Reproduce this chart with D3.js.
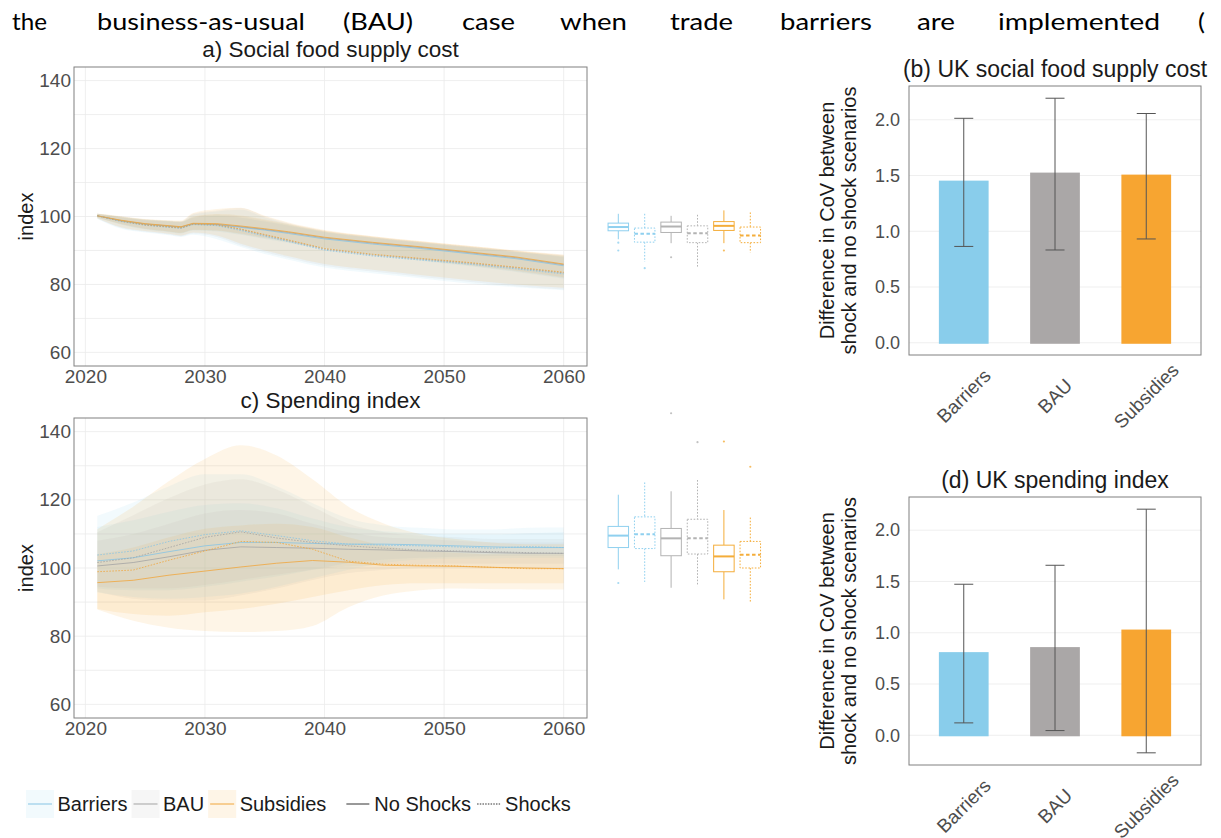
<!DOCTYPE html>
<html>
<head>
<meta charset="utf-8">
<script src="https://cdn.jsdelivr.net/npm/d3@7"></script>
<style>
  html, body { margin: 0; padding: 0; background: #ffffff; }
  svg { display: block; }
</style>
</head>
<body>
<svg id="fig" width="1221" height="838"></svg>
<script>
// ---------------------------------------------------------------
// Data
// ---------------------------------------------------------------
const scenarios = ["Barriers", "BAU", "Subsidies"];

// (a) Social food supply cost, index (2021 = 100)
const costYears = [2021, 2023, 2025, 2027, 2028, 2029, 2031, 2033, 2035, 2037, 2040, 2044, 2048, 2052, 2056, 2060];
const costBarriersNoShock   = [100.2, 98.7, 97.7, 97.1, 96.8, 97.8, 97.6, 96.8, 96.0, 95.0, 93.4, 91.9, 90.6, 89.1, 87.6, 85.5];
const costBAUNoShock        = [100.2, 98.8, 97.8, 97.2, 96.9, 97.9, 97.7, 97.0, 96.2, 95.3, 93.7, 92.2, 90.9, 89.4, 87.9, 85.8];
const costSubsidiesNoShock  = [100.2, 98.9, 97.9, 97.3, 97.0, 98.0, 97.9, 97.2, 96.4, 95.5, 93.9, 92.4, 91.1, 89.6, 88.1, 86.0];
const costBarriersShock     = [100.2, 98.5, 97.4, 96.8, 96.5, 97.6, 97.3, 95.9, 94.2, 92.6, 90.1, 88.4, 87.2, 86.0, 84.6, 83.1];
const costBAUShock          = [100.2, 98.6, 97.5, 96.9, 96.6, 97.7, 97.5, 96.2, 94.5, 92.9, 90.4, 88.7, 87.5, 86.3, 84.9, 83.4];
const costSubsidiesShock    = [100.2, 98.7, 97.6, 97.0, 96.7, 97.8, 97.6, 96.3, 94.7, 93.1, 90.6, 88.9, 87.7, 86.5, 85.1, 83.6];

const costBarriersNoShockLo  = [99.6, 97.6, 96.2, 95.4, 95.0, 95.9, 95.6, 94.6, 93.4, 92.2, 90.4, 88.6, 87.0, 85.4, 83.7, 81.7];
const costBarriersNoShockHi  = [100.7, 99.7, 98.9, 98.5, 98.3, 99.6, 100.2, 99.6, 98.5, 97.3, 95.4, 93.8, 92.4, 91.0, 89.6, 88.0];
const costBAUNoShockLo       = [99.7, 97.7, 96.3, 95.5, 95.1, 96.0, 95.8, 94.8, 93.6, 92.4, 90.6, 88.8, 87.2, 85.6, 83.9, 81.9];
const costBAUNoShockHi       = [100.8, 99.8, 99.0, 98.6, 98.4, 99.8, 100.5, 100.0, 98.8, 97.5, 95.6, 94.0, 92.6, 91.2, 89.8, 88.2];
const costSubsidiesNoShockLo = [99.7, 97.8, 96.4, 95.6, 95.2, 96.1, 95.9, 95.0, 93.8, 92.6, 90.8, 89.0, 87.4, 85.8, 84.1, 82.1];
const costSubsidiesNoShockHi = [100.8, 99.9, 99.1, 98.7, 98.5, 99.9, 100.7, 100.3, 99.1, 97.8, 95.8, 94.2, 92.8, 91.4, 90.0, 88.5];
const costBarriersShockLo    = [99.3, 96.4, 95.3, 94.5, 94.0, 94.6, 93.3, 91.0, 89.0, 87.3, 85.0, 83.3, 81.8, 80.3, 79.2, 78.3];
const costBarriersShockHi    = [100.8, 99.9, 99.1, 98.7, 98.5, 100.5, 101.5, 102.0, 99.7, 97.7, 95.5, 93.7, 92.2, 90.9, 89.5, 88.4];
const costBAUShockLo         = [99.4, 96.6, 95.5, 94.7, 94.2, 95.0, 94.0, 91.5, 89.5, 87.8, 85.5, 83.8, 82.3, 80.8, 79.5, 78.5];
const costBAUShockHi         = [100.8, 100.0, 99.2, 98.8, 98.6, 100.8, 101.8, 102.5, 100.0, 98.0, 95.8, 94.0, 92.5, 91.2, 89.8, 88.7];
const costSubsidiesShockLo   = [99.5, 96.8, 95.7, 94.9, 94.4, 95.3, 94.4, 92.0, 90.0, 88.3, 86.0, 84.3, 82.8, 81.3, 80.0, 79.0];
const costSubsidiesShockHi   = [100.9, 100.1, 99.3, 98.9, 98.8, 101.0, 102.2, 102.6, 100.2, 98.2, 96.0, 94.2, 92.7, 91.4, 90.0, 88.8];

// (c) Spending index (2021 = 100)
const spendYears = [2021, 2024, 2027, 2030, 2033, 2036, 2039, 2042, 2045, 2048, 2051, 2054, 2057, 2060];
const spendBarriersNoShock  = [102.1, 103.0, 104.8, 106.5, 107.5, 107.5, 107.2, 107.0, 107.0, 106.8, 106.5, 106.2, 106.0, 106.0];
const spendBAUNoShock       = [100.6, 101.6, 103.3, 105.2, 106.2, 106.0, 105.8, 105.5, 105.3, 105.0, 104.8, 104.5, 104.3, 104.3];
const spendSubsidiesNoShock = [95.7, 96.4, 97.9, 99.1, 100.3, 101.4, 102.2, 101.7, 100.8, 100.6, 100.5, 100.2, 100.0, 99.8];
const spendBarriersShock    = [103.8, 105.0, 107.8, 109.8, 110.9, 109.5, 108.0, 107.0, 106.7, 106.5, 106.2, 105.8, 106.3, 106.0];
const spendBAUShock         = [101.6, 103.0, 106.0, 109.0, 110.6, 108.8, 107.5, 106.5, 105.8, 105.3, 105.0, 104.8, 104.5, 104.3];
const spendSubsidiesShock   = [98.9, 99.4, 102.3, 105.0, 107.8, 107.5, 105.5, 102.0, 101.1, 100.8, 100.6, 100.2, 99.8, 99.8];

const spendBarriersNoShockLo  = [94.0, 93.5, 93.5, 94.5, 96.0, 97.5, 99.5, 101.5, 102.5, 103.0, 103.3, 103.5, 103.5, 103.5];
const spendBarriersNoShockHi  = [112.0, 114.0, 116.5, 118.5, 119.0, 117.5, 114.5, 112.0, 110.8, 110.2, 109.8, 109.8, 110.2, 110.5];
const spendBAUNoShockLo       = [94.5, 94.0, 94.0, 95.0, 96.5, 98.0, 99.5, 100.5, 101.0, 101.2, 101.3, 101.3, 101.3, 101.3];
const spendBAUNoShockHi       = [108.0, 110.0, 113.0, 116.0, 117.0, 116.0, 113.0, 110.5, 109.0, 108.5, 108.0, 107.5, 107.5, 107.5];
const spendSubsidiesNoShockLo = [88.0, 86.5, 86.0, 87.0, 88.0, 89.5, 91.5, 93.5, 95.0, 95.5, 95.5, 95.5, 95.5, 95.5];
const spendSubsidiesNoShockHi = [104.0, 106.0, 109.0, 111.5, 112.5, 113.0, 112.0, 109.0, 106.5, 105.0, 104.5, 104.0, 104.0, 104.0];
const spendBarriersShockLo    = [92.8, 91.5, 91.0, 91.5, 92.5, 94.5, 97.0, 99.5, 101.5, 102.5, 102.8, 102.8, 103.0, 103.0];
const spendBarriersShockHi    = [115.3, 119.2, 124.0, 127.5, 127.5, 124.0, 119.0, 114.5, 112.5, 111.8, 111.3, 111.3, 111.8, 111.9];
const spendBAUShockLo         = [93.0, 91.0, 90.5, 90.5, 92.0, 94.0, 96.5, 98.5, 99.5, 100.0, 100.0, 100.0, 100.0, 100.0];
const spendBAUShockHi         = [110.5, 115.5, 120.5, 124.5, 126.0, 123.0, 118.0, 113.0, 110.5, 109.5, 109.0, 108.5, 108.5, 108.5];
const spendSubsidiesShockLo   = [87.8, 84.5, 82.5, 81.5, 81.2, 81.5, 83.0, 88.5, 92.0, 93.5, 94.0, 93.8, 93.7, 93.7];
const spendSubsidiesShockHi   = [111.4, 118.0, 125.5, 132.0, 136.0, 133.0, 126.0, 118.0, 113.0, 110.0, 108.5, 107.5, 107.0, 107.0];

// Box plots beside (a) and (c): Barriers, Barriers+shock, BAU, BAU+shock, Subsidies, Subsidies+shock
const boxGroups  = ["Barriers|No Shocks", "Barriers|Shocks", "BAU|No Shocks", "BAU|Shocks", "Subsidies|No Shocks", "Subsidies|Shocks"];
const costBoxLow      = [93.3, 86.7, 92.15, 85.25, 92.15, 89.4];
const costBoxQ1       = [95.8, 92.45, 95.3, 92.3, 95.9, 92.3];
const costBoxMedian   = [96.9, 94.9, 97.05, 95.1, 97.25, 94.4];
const costBoxQ3       = [98.05, 96.6, 98.35, 97.25, 98.5, 96.9];
const costBoxHigh     = [100.8, 100.8, 100.2, 100.5, 101.8, 101.2];
const costBoxOutliers = [[92.3, 90.0], [84.8], [88.0], [], [90.0], []];

const spendBoxLow      = [99.6, 95.9, 94.2, 94.7, 90.8, 89.8];
const spendBoxQ1       = [106.0, 105.7, 103.6, 104.1, 98.9, 100.0];
const spendBoxMedian   = [109.5, 109.9, 108.7, 108.7, 103.4, 103.9];
const spendBoxQ3       = [112.2, 115.0, 111.6, 114.3, 106.7, 107.8];
const spendBoxHigh     = [121.5, 125.1, 122.5, 125.8, 117.0, 114.8];
const spendBoxOutliers = [[95.6], [], [145.4], [136.9], [137.1], [129.7]];

// (b) and (d): difference in CoV between shock and no-shock scenarios
const costCovDiff  = [1.454, 1.526, 1.508];
const costCovLow   = [0.864, 0.832, 0.931];
const costCovHigh  = [2.013, 2.193, 2.056];
const spendCovDiff = [0.811, 0.860, 1.031];
const spendCovLow  = [0.121, 0.046, -0.171];
const spendCovHigh = [1.473, 1.658, 2.205];

const indexTicks = [60, 80, 100, 120, 140];
const yearTicks  = [2020, 2030, 2040, 2050, 2060];
const covTicks   = [0, 0.5, 1, 1.5, 2];

// ---------------------------------------------------------------
// Styling
// ---------------------------------------------------------------
const FONT = "'Liberation Sans', Arial, Helvetica, sans-serif";
const lineColor = { Barriers: "#86c4e4", BAU: "#a3a3a3", Subsidies: "#f0a63c" };
const bandColor = { Barriers: "#87ceeb", BAU: "#a9a9a9", Subsidies: "#f5a623" };
const boxColor  = { Barriers: "#8fd0ef", BAU: "#b3b3b3", Subsidies: "#f4ad3a" };
const barColor  = { Barriers: "#89cdeb", BAU: "#aaa7a7", Subsidies: "#f7a531" };
const BAND_OPACITY = 0.11;
const GRID = "#ebebeb";
const BORDER = "#808080";
const TICK_TEXT = "#4d4d4d";

const svg = d3.select("#fig");
svg.append("rect").attr("width", 1221).attr("height", 838).attr("fill", "#fff");

// ---------------------------------------------------------------
// Running text line above the figure (justified words)
// ---------------------------------------------------------------
const headerWords = ["the", "business-as-usual", "(BAU)", "case", "when", "trade", "barriers", "are", "implemented", "("];
const headerStart = [12, 97, 343, 462, 560, 670, 780, 917, 998, 1198];
const headerWidth = [35, 208, 70, 53, 67, 63, 92, 38, 162, 7];
svg.append("g")
  .selectAll("text")
  .data(headerWords)
  .join("text")
  .attr("x", (d, i) => headerStart[i])
  .attr("y", 30)
  .attr("textLength", (d, i) => headerWidth[i])
  .attr("lengthAdjust", "spacingAndGlyphs")
  .attr("font-family", "Lato, 'Open Sans', sans-serif")
  .attr("font-size", 23)
  .attr("fill", "#000")
  .text(d => d);

// ---------------------------------------------------------------
// Time-series panels (a) and (c)
// ---------------------------------------------------------------
function seriesSet(years, mids, los, his) {
  const order = [
    ["Barriers", false], ["BAU", false], ["Subsidies", false],
    ["Barriers", true], ["BAU", true], ["Subsidies", true]
  ];
  return order.map(([scen, shock], k) => ({
    scenario: scen, shock: shock,
    points: years.map((yr, i) => ({ year: yr, mid: mids[k][i], lo: los[k][i], hi: his[k][i] }))
  }));
}

const costData = seriesSet(costYears,
  [costBarriersNoShock, costBAUNoShock, costSubsidiesNoShock, costBarriersShock, costBAUShock, costSubsidiesShock],
  [costBarriersNoShockLo, costBAUNoShockLo, costSubsidiesNoShockLo, costBarriersShockLo, costBAUShockLo, costSubsidiesShockLo],
  [costBarriersNoShockHi, costBAUNoShockHi, costSubsidiesNoShockHi, costBarriersShockHi, costBAUShockHi, costSubsidiesShockHi]);

const spendData = seriesSet(spendYears,
  [spendBarriersNoShock, spendBAUNoShock, spendSubsidiesNoShock, spendBarriersShock, spendBAUShock, spendSubsidiesShock],
  [spendBarriersNoShockLo, spendBAUNoShockLo, spendSubsidiesNoShockLo, spendBarriersShockLo, spendBAUShockLo, spendSubsidiesShockLo],
  [spendBarriersNoShockHi, spendBAUNoShockHi, spendSubsidiesNoShockHi, spendBarriersShockHi, spendBAUShockHi, spendSubsidiesShockHi]);

function drawSeriesPanel(opt) {
  const { top, bottom, left, right, title, data, box } = opt;
  const g = svg.append("g");
  const x = d3.scaleLinear().domain([2019.05, 2061.95]).range([left, right]);
  const y = d3.scaleLinear().domain([56, 144]).range([bottom, top]);

  // grid
  g.append("g").selectAll("line").data(d3.range(60, 141, 10)).join("line")
    .attr("x1", left).attr("x2", right)
    .attr("y1", d => y(d)).attr("y2", d => y(d))
    .attr("stroke", GRID).attr("stroke-width", 0.8);
  g.append("g").selectAll("line").data(yearTicks).join("line")
    .attr("x1", d => x(d)).attr("x2", d => x(d))
    .attr("y1", top).attr("y2", bottom)
    .attr("stroke", GRID).attr("stroke-width", 0.8);

  // uncertainty bands
  const area = d3.area().x(d => x(d.year)).y0(d => y(d.lo)).y1(d => y(d.hi)).curve(d3.curveMonotoneX);
  g.append("g").selectAll("path").data(data).join("path")
    .attr("d", d => area(d.points))
    .attr("fill", d => bandColor[d.scenario])
    .attr("fill-opacity", BAND_OPACITY)
    .attr("stroke", "none");

  // mean lines
  const line = d3.line().x(d => x(d.year)).y(d => y(d.mid));
  g.append("g").selectAll("path").data(data).join("path")
    .attr("d", d => line(d.points))
    .attr("fill", "none")
    .attr("stroke", d => lineColor[d.scenario])
    .attr("stroke-width", 0.8)
    .attr("stroke-dasharray", d => d.shock ? "1.6,1.4" : null);

  // panel border
  g.append("rect")
    .attr("x", left).attr("y", top)
    .attr("width", right - left).attr("height", bottom - top)
    .attr("fill", "none").attr("stroke", BORDER).attr("stroke-width", 1);

  // axes
  const yAxis = g.append("g").attr("transform", `translate(${left},0)`)
    .call(d3.axisLeft(y).tickValues(indexTicks).tickSize(0).tickPadding(3));
  const xAxis = g.append("g").attr("transform", `translate(0,${bottom})`)
    .call(d3.axisBottom(x).tickValues(yearTicks).tickFormat(d3.format("d")).tickSize(0).tickPadding(4));
  [yAxis, xAxis].forEach(a => {
    a.select(".domain").remove();
    a.selectAll("text").attr("font-family", FONT).attr("font-size", 19).attr("fill", TICK_TEXT);
  });

  // axis title and panel title
  g.append("text")
    .attr("transform", `translate(26,${(top + bottom) / 2}) rotate(-90)`)
    .attr("text-anchor", "middle").attr("dominant-baseline", "central")
    .attr("font-family", FONT).attr("font-size", 20).attr("fill", "#1a1a1a")
    .text("index");
  g.append("text")
    .attr("x", (left + right) / 2).attr("y", top - 10)
    .attr("text-anchor", "middle")
    .attr("font-family", FONT).attr("font-size", 22.5).attr("fill", "#1a1a1a")
    .text(title);

  // box plots of the period distribution, sharing the y scale
  const bx = d3.scalePoint().domain(boxGroups).range([618.3, 750.3]);
  const bw = 20.5;
  const bg = g.append("g");
  boxGroups.forEach((key, i) => {
    const [scen, state] = key.split("|");
    const shock = state === "Shocks";
    const c = boxColor[scen];
    const cx = bx(key);
    const dash = shock ? "1.6,1.6" : null;
    const grp = bg.append("g");
    grp.append("line").attr("x1", cx).attr("x2", cx)
      .attr("y1", y(box.high[i])).attr("y2", y(box.q3[i]))
      .attr("stroke", c).attr("stroke-width", 1).attr("stroke-dasharray", dash);
    grp.append("line").attr("x1", cx).attr("x2", cx)
      .attr("y1", y(box.q1[i])).attr("y2", y(box.low[i]))
      .attr("stroke", c).attr("stroke-width", 1).attr("stroke-dasharray", dash);
    grp.append("rect")
      .attr("x", cx - bw / 2).attr("y", y(box.q3[i]))
      .attr("width", bw).attr("height", y(box.q1[i]) - y(box.q3[i]))
      .attr("fill", "#fff").attr("stroke", c).attr("stroke-width", 1)
      .attr("stroke-dasharray", dash);
    grp.append("line").attr("x1", cx - bw / 2).attr("x2", cx + bw / 2)
      .attr("y1", y(box.median[i])).attr("y2", y(box.median[i]))
      .attr("stroke", c).attr("stroke-width", 2)
      .attr("stroke-dasharray", shock ? "3.5,2.5" : null);
    grp.selectAll("circle").data(box.outliers[i]).join("circle")
      .attr("cx", cx).attr("cy", d => y(d)).attr("r", 1.1)
      .attr("fill", c).attr("fill-opacity", 0.8);
  });
}

drawSeriesPanel({
  top: 67, bottom: 366, left: 74, right: 587,
  title: "a) Social food supply cost", data: costData,
  box: { low: costBoxLow, q1: costBoxQ1, median: costBoxMedian, q3: costBoxQ3, high: costBoxHigh, outliers: costBoxOutliers }
});
drawSeriesPanel({
  top: 418, bottom: 718, left: 74, right: 587,
  title: "c) Spending index", data: spendData,
  box: { low: spendBoxLow, q1: spendBoxQ1, median: spendBoxMedian, q3: spendBoxQ3, high: spendBoxHigh, outliers: spendBoxOutliers }
});

// ---------------------------------------------------------------
// Bar panels (b) and (d)
// ---------------------------------------------------------------
function drawBarPanel(opt) {
  const { top, bottom, left, right, title, values, lows, highs } = opt;
  const g = svg.append("g");
  const lo = Math.min(0, d3.min(lows)), hi = Math.max(d3.max(values), d3.max(highs));
  const pad = (hi - lo) * 0.05;
  const y = d3.scaleLinear().domain([lo - pad, hi + pad]).range([bottom, top]);
  const x = d3.scaleBand().domain(scenarios).range([left, right])
    .paddingInner(0.455).paddingOuter(0.3275);

  g.append("g").selectAll("line").data(covTicks).join("line")
    .attr("x1", left).attr("x2", right)
    .attr("y1", d => y(d)).attr("y2", d => y(d))
    .attr("stroke", GRID).attr("stroke-width", 0.8);

  g.append("g").selectAll("rect").data(scenarios).join("rect")
    .attr("x", d => x(d))
    .attr("width", x.bandwidth())
    .attr("y", (d, i) => y(Math.max(0, values[i])))
    .attr("height", (d, i) => Math.abs(y(0) - y(values[i])) + 1)
    .attr("fill", d => barColor[d]);

  const cap = 9.5;
  const eb = g.append("g").attr("stroke", "#555").attr("stroke-width", 1).attr("fill", "none");
  scenarios.forEach((s, i) => {
    const cx = x(s) + x.bandwidth() / 2;
    eb.append("line").attr("x1", cx).attr("x2", cx).attr("y1", y(lows[i])).attr("y2", y(highs[i]));
    eb.append("line").attr("x1", cx - cap).attr("x2", cx + cap).attr("y1", y(highs[i])).attr("y2", y(highs[i]));
    eb.append("line").attr("x1", cx - cap).attr("x2", cx + cap).attr("y1", y(lows[i])).attr("y2", y(lows[i]));
  });

  g.append("rect")
    .attr("x", left).attr("y", top)
    .attr("width", right - left).attr("height", bottom - top)
    .attr("fill", "none").attr("stroke", BORDER).attr("stroke-width", 1);

  const yAxis = g.append("g").attr("transform", `translate(${left},0)`)
    .call(d3.axisLeft(y).tickValues(covTicks).tickFormat(d3.format(".1f")).tickSize(0).tickPadding(9));
  yAxis.select(".domain").remove();
  yAxis.selectAll("text").attr("font-family", FONT).attr("font-size", 18).attr("fill", TICK_TEXT);

  g.append("g").selectAll("text").data(scenarios).join("text")
    .attr("transform", d => `translate(${x(d) + x.bandwidth() / 2},${bottom + 41}) rotate(-45)`)
    .attr("text-anchor", "middle").attr("dominant-baseline", "central")
    .attr("font-family", FONT).attr("font-size", 19).attr("fill", TICK_TEXT)
    .text(d => d);

  const mid = (top + bottom) / 2;
  const yTitle = ["Difference in CoV between", "shock and no shock scenarios"];
  g.append("g").selectAll("text").data(yTitle).join("text")
    .attr("transform", (d, i) => `translate(${827 + i * 21.5},${mid}) rotate(-90)`)
    .attr("text-anchor", "middle").attr("dominant-baseline", "central")
    .attr("font-family", FONT).attr("font-size", 20).attr("fill", "#1a1a1a")
    .text(d => d);

  g.append("text")
    .attr("x", (left + right) / 2).attr("y", top - 9)
    .attr("text-anchor", "middle")
    .attr("font-family", FONT).attr("font-size", 23).attr("fill", "#1a1a1a")
    .text(title);
}

drawBarPanel({
  top: 86, bottom: 355, left: 909, right: 1201,
  title: "(b) UK social food supply cost",
  values: costCovDiff, lows: costCovLow, highs: costCovHigh
});
drawBarPanel({
  top: 497, bottom: 765, left: 909, right: 1201,
  title: "(d) UK spending index",
  values: spendCovDiff, lows: spendCovLow, highs: spendCovHigh
});

// ---------------------------------------------------------------
// Legend
// ---------------------------------------------------------------
const legend = svg.append("g").attr("font-family", FONT).attr("font-size", 20).attr("fill", "#1a1a1a");
let lx = 26;
const ly = 804;
scenarios.forEach(s => {
  legend.append("rect").attr("x", lx).attr("y", ly - 14).attr("width", 28).attr("height", 28)
    .attr("fill", bandColor[s]).attr("fill-opacity", BAND_OPACITY);
  legend.append("line").attr("x1", lx + 2).attr("x2", lx + 26).attr("y1", ly).attr("y2", ly)
    .attr("stroke", lineColor[s]).attr("stroke-width", 1);
  const t = legend.append("text").attr("x", lx + 31.5).attr("y", ly).attr("dominant-baseline", "central").text(s);
  lx += 31.5 + t.node().getComputedTextLength() + 4;
});
lx += 16;
[["No Shocks", null], ["Shocks", "1.5,1.2"]].forEach(([label, dash]) => {
  legend.append("line").attr("x1", lx).attr("x2", lx + 23).attr("y1", ly).attr("y2", ly)
    .attr("stroke", "#333").attr("stroke-width", 1).attr("stroke-dasharray", dash);
  const t = legend.append("text").attr("x", lx + 28).attr("y", ly).attr("dominant-baseline", "central").text(label);
  lx += 28 + t.node().getComputedTextLength() + 6;
});
</script>
</body>
</html>
